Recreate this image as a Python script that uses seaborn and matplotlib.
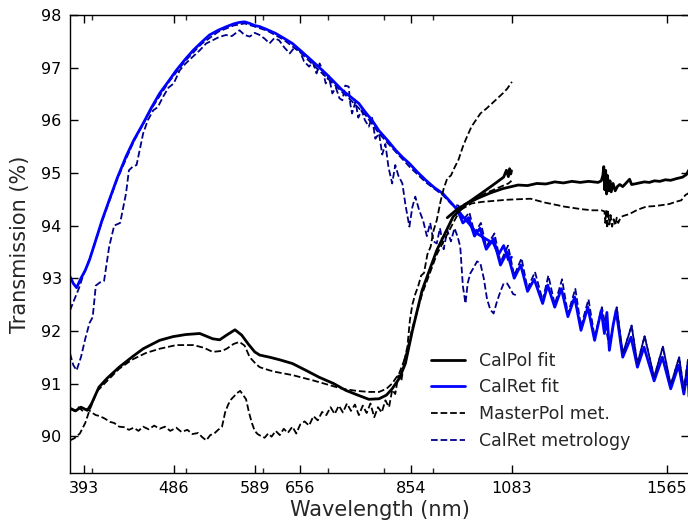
import matplotlib
matplotlib.use("Agg")
import matplotlib.pyplot as plt
import seaborn as sns
from matplotlib.ticker import FixedLocator, NullFormatter
from matplotlib.lines import Line2D

# ---------------- data ----------------
# CalPol fit (visible range) - black solid
calpol_wl = [380, 385, 390, 396, 400, 407, 415, 427, 440, 452, 470, 485, 500, 517, 533, 542, 551, 562, 571,
             580, 589, 596, 610, 625, 644, 665, 686, 710, 731, 752, 772, 791, 805, 816, 830, 842, 856, 876,
             907, 943, 974, 1006, 1031, 1047, 1063, 1070, 1075, 1078, 1081, 1083]
calpol_val = [90.53, 90.48, 90.55, 90.49, 90.62, 90.93, 91.10, 91.31, 91.50, 91.66, 91.82, 91.89, 91.93, 91.95,
              91.85, 91.83, 91.92, 92.02, 91.92, 91.75, 91.60, 91.54, 91.50, 91.45, 91.38, 91.25, 91.12, 91.00,
              90.87, 90.78, 90.70, 90.71, 90.78, 90.90, 91.10, 91.38, 92.00, 92.77, 93.53, 94.17, 94.42, 94.60,
              94.74, 94.83, 94.92, 95.05, 94.93, 95.08, 94.98, 95.04]

# CalPol fit (IR range) - black solid
calpol_ir_wl = [930, 955, 975, 1000, 1030, 1060, 1100, 1125, 1150, 1175, 1200, 1225, 1250, 1275, 1300, 1330,
                1340, 1345, 1348, 1351, 1354, 1357, 1360, 1364, 1368, 1372, 1378, 1385, 1392, 1400, 1410,
                1420, 1433, 1440, 1450, 1467, 1484, 1502, 1520, 1540, 1560, 1580, 1600, 1625, 1640, 1650]
calpol_ir_val = [94.15, 94.33, 94.42, 94.52, 94.62, 94.70, 94.77, 94.76, 94.80, 94.79, 94.83, 94.81, 94.84,
                 94.82, 94.84, 94.82, 94.85, 94.95, 95.12, 94.68, 95.05, 94.60, 94.95, 94.66, 94.85, 94.64,
                 94.80, 94.66, 94.74, 94.78, 94.74, 94.80, 94.88, 94.78, 94.79, 94.81, 94.83, 94.82, 94.85,
                 94.84, 94.87, 94.86, 94.89, 94.92, 94.97, 95.06]

# MasterPol metrology (smooth, near CalPol fit) - black dashed
mpol_a_wl = [380, 384, 389, 394, 398, 405, 415, 427, 440, 455, 470, 489, 509, 522, 533, 545, 551, 560, 568,
             575, 582, 590, 596, 610, 619, 644, 676, 700, 725, 750, 772, 791, 805, 816, 830, 842, 856, 876,
             907, 943, 965, 990, 1020, 1050, 1075, 1083]
mpol_a_val = [89.92, 89.96, 90.05, 90.25, 90.49, 90.85, 91.05, 91.28, 91.45, 91.58, 91.66, 91.73, 91.73, 91.68,
              91.60, 91.62, 91.66, 91.75, 91.79, 91.72, 91.50, 91.38, 91.31, 91.25, 91.22, 91.16, 91.06, 90.98,
              90.90, 90.86, 90.84, 90.84, 90.90, 91.00, 91.20, 91.50, 92.05, 92.70, 93.45, 94.05, 94.39, 94.50,
              94.62, 94.72, 94.80, 94.85]

# MasterPol metrology (noisy) - black dashed
mpol_b_wl = [380, 384, 388, 392, 396, 400, 404, 408, 413, 418, 422, 427, 432, 437, 442, 447, 452, 458, 464,
             470, 476, 482, 489, 495, 502, 508, 515, 520, 525, 530, 535, 540, 545, 549, 553, 557, 561, 565,
             569, 573, 577, 581, 585, 589, 593, 598, 603, 608, 613, 619, 625, 631, 637, 644, 650, 656, 663,
             670, 677, 684, 691, 698, 705, 712, 719, 726, 733, 740, 747, 754, 761, 768, 775, 782, 789, 796,
             803, 810, 816, 822, 828, 834, 840, 846, 851, 856, 862, 868, 874, 880, 887, 894, 900, 907, 915,
             922, 930, 938, 946, 955, 965, 975, 985, 995, 1006, 1020, 1034, 1048, 1062, 1072, 1084]
mpol_b_val = [90.52, 90.48, 90.55, 90.47, 90.52, 90.45, 90.40, 90.38, 90.33, 90.27, 90.25, 90.18, 90.17,
              90.12, 90.16, 90.10, 90.18, 90.13, 90.20, 90.14, 90.18, 90.10, 90.16, 90.08, 90.12, 90.04,
              90.06, 89.98, 89.92, 90.02, 90.05, 90.12, 90.18, 90.45, 90.60, 90.70, 90.76, 90.82, 90.86,
              90.78, 90.70, 90.45, 90.25, 90.10, 90.04, 90.00, 89.97, 90.05, 89.99, 90.10, 90.02, 90.14,
              90.06, 90.18, 90.05, 90.22, 90.28, 90.20, 90.38, 90.30, 90.46, 90.40, 90.55, 90.42, 90.58,
              90.45, 90.62, 90.48, 90.60, 90.40, 90.58, 90.44, 90.62, 90.36, 90.55, 90.45, 90.68, 90.55,
              90.88, 90.80, 91.15, 91.05, 91.45, 91.70, 92.20, 92.50, 92.70, 92.85, 93.05, 93.10, 93.45,
              93.60, 93.90, 94.10, 94.45, 94.70, 94.90, 94.95, 95.10, 95.25, 95.50, 95.70, 95.88, 96.00,
              96.13, 96.22, 96.32, 96.42, 96.52, 96.60, 96.73]

# MasterPol metrology (IR) - black dashed
mpol_ir_wl = [960, 985, 1010, 1040, 1070, 1100, 1133, 1170, 1228, 1280, 1313, 1340, 1350, 1353, 1356, 1359,
              1362, 1366, 1370, 1375, 1380, 1385, 1390, 1395, 1402, 1410, 1433, 1460, 1491, 1520, 1549, 1575,
              1598, 1620, 1636, 1650]
mpol_ir_val = [94.30, 94.42, 94.45, 94.47, 94.49, 94.50, 94.51, 94.44, 94.36, 94.31, 94.29, 94.29, 94.27,
               94.05, 94.30, 93.95, 94.28, 94.02, 94.20, 93.98, 94.12, 94.00, 94.15, 94.05, 94.14, 94.18,
               94.22, 94.30, 94.36, 94.37, 94.39, 94.41, 94.45, 94.48, 94.58, 94.62]

# CalRet fit (visible) - blue solid
calret_wl = [380, 383, 386, 390, 394, 398, 402, 406, 410, 417, 425, 434, 442, 452, 461, 470, 480, 489, 499,
             509, 519, 529, 540, 551, 560, 568, 575, 582, 589, 596, 607, 619, 631, 644, 657, 670, 683, 697,
             711, 725, 740, 754, 766, 778, 791, 807, 823, 836, 850, 866, 884, 902, 920, 940, 959, 978, 998,
             1018, 1038, 1050, 1063, 1075, 1083]
calret_val = [93.03, 92.90, 92.82, 93.00, 93.15, 93.35, 93.60, 93.85, 94.10, 94.48, 94.90, 95.31, 95.62,
              95.94, 96.24, 96.51, 96.74, 96.95, 97.15, 97.33, 97.48, 97.62, 97.71, 97.78, 97.83, 97.86,
              97.87, 97.84, 97.80, 97.78, 97.72, 97.65, 97.56, 97.46, 97.32, 97.18, 97.04, 96.89, 96.73,
              96.57, 96.44, 96.32, 96.15, 96.00, 95.80, 95.62, 95.43, 95.30, 95.18, 95.02, 94.86, 94.72,
              94.61, 94.42, 94.23, 94.05, 93.85, 93.75, 93.66, 93.45, 93.62, 93.35, 93.40]

# CalRet fit (IR) - blue solid
calret_ir_wl = [950, 965, 978, 992, 1005, 1020, 1038, 1055, 1072, 1090, 1107, 1125, 1143, 1166, 1180, 1200,
                1219, 1238, 1258, 1277, 1298, 1319, 1340, 1350, 1358, 1366, 1378, 1388, 1410, 1438, 1460,
                1483, 1519, 1549, 1580, 1610, 1630, 1645, 1650]
calret_ir_val = [94.35, 94.05, 94.15, 93.80, 93.95, 93.55, 93.75, 93.25, 93.50, 93.00, 93.25, 92.75, 92.98,
                 92.52, 92.87, 92.45, 92.80, 92.27, 92.64, 92.01, 92.45, 91.82, 92.39, 91.95, 92.35, 91.63,
                 92.10, 92.39, 91.50, 91.88, 91.31, 91.69, 91.05, 91.50, 90.90, 91.35, 90.80, 91.30, 90.75]

# CalRet metrology (smooth) - navy dashed
cmet_a_wl = [380, 384, 388, 392, 396, 400, 410, 425, 442, 461, 480, 499, 519, 540, 560, 575, 589, 607, 631,
             657, 683, 711, 740, 766, 791, 823, 850, 884, 920, 940, 955, 965, 980, 992, 1007, 1020, 1040,
             1055, 1074, 1090, 1109, 1125, 1145, 1166, 1182, 1200, 1221, 1238, 1260, 1277, 1300, 1319, 1342,
             1366, 1390, 1410, 1440, 1460, 1485, 1519, 1551, 1580, 1612, 1630, 1646, 1650]
cmet_a_val = [92.39, 92.60, 92.80, 93.05, 93.25, 93.48, 94.08, 94.88, 95.60, 96.22, 96.72, 97.12, 97.45,
              97.68, 97.80, 97.84, 97.78, 97.70, 97.53, 97.28, 96.98, 96.68, 96.38, 96.10, 95.75, 95.40,
              95.12, 94.82, 94.58, 94.40, 94.38, 94.10, 94.25, 93.85, 94.05, 93.60, 93.85, 93.30, 93.62,
              93.05, 93.38, 92.80, 93.12, 92.58, 93.05, 92.50, 92.98, 92.32, 92.80, 92.08, 92.60, 91.88,
              92.45, 91.70, 92.45, 91.56, 92.10, 91.37, 91.90, 91.12, 91.70, 90.97, 91.50, 90.87, 91.45,
              91.00]

# CalRet metrology (noisy) - navy dashed
cmet_b_wl = [380, 383, 386, 390, 394, 398, 401, 404, 408, 412, 417, 422, 428, 434, 437, 441, 445, 452, 457,
             463, 468, 474, 480, 486, 493, 500, 508, 517, 525, 533, 541, 550, 558, 568, 575, 582, 589, 596,
             603, 610, 617, 624, 632, 640, 647, 655, 662, 670, 676, 682, 687, 692, 697, 702, 708, 714, 720,
             725, 730, 736, 739, 742, 748, 753, 759, 765, 772, 778, 784, 791, 797, 803, 809, 816, 822, 828,
             836, 842, 850, 856, 862, 870, 878, 886, 893, 900, 907, 914, 922, 930, 938, 946, 953, 959, 965,
             971, 976, 982, 990, 998, 1006, 1014, 1022, 1030, 1038, 1046, 1055, 1063, 1072, 1080, 1087, 1094]
cmet_b_val = [91.57, 91.35, 91.25, 91.50, 91.85, 92.15, 92.26, 92.86, 92.92, 92.95, 93.60, 94.00, 94.05,
              94.61, 95.05, 95.12, 95.15, 95.75, 96.00, 96.19, 96.25, 96.45, 96.62, 96.70, 96.95, 97.08,
              97.20, 97.33, 97.46, 97.52, 97.58, 97.62, 97.60, 97.71, 97.62, 97.59, 97.66, 97.62, 97.55,
              97.46, 97.56, 97.52, 97.38, 97.27, 97.38, 97.33, 97.12, 97.02, 97.10, 96.89, 97.08, 96.95,
              96.70, 96.85, 96.51, 96.62, 96.42, 96.38, 96.66, 96.64, 96.30, 96.13, 96.35, 96.05, 96.19,
              96.00, 95.88, 96.05, 95.65, 95.75, 95.35, 95.55, 95.10, 94.80, 95.15, 94.95, 94.80, 94.40,
              93.98, 94.35, 94.55, 94.29, 94.10, 93.80, 94.05, 93.70, 93.66, 93.95, 93.55, 93.91, 93.70,
              93.95, 93.79, 93.60, 92.85, 92.52, 92.90, 93.09, 93.20, 93.32, 93.28, 93.00, 92.60, 92.40,
              92.33, 92.55, 92.75, 92.90, 92.90, 92.80, 92.70, 92.68]

xtick_vals = [393, 486, 589, 656, 854, 1083, 1565]
xtick_labels = ["393", "486", "589", "656", "854", "1083", "1565"]
xminor_vals = [400, 500, 600, 700, 800, 900]
ytick_vals = [90, 91, 92, 93, 94, 95, 96, 97, 98]

legend_labels = ["CalPol fit", "CalRet fit", "MasterPol met.", "CalRet metrology"]

# ---------------- style ----------------
sns.set_theme(style="ticks", rc={
    "xtick.direction": "in", "ytick.direction": "in",
    "xtick.top": True, "ytick.right": True,
    "axes.edgecolor": "black", "axes.linewidth": 1.0,
})
plt.rcParams["font.family"] = ["DejaVu Sans"]

BLACK = "black"
BLUE = "#0000ff"
NAVY = "#00008b"
LW_SOLID = 2.0
LW_DASH = 1.3

fig = plt.figure(figsize=(6.88, 5.27), dpi=100)
ax = fig.add_axes([70 / 688, 54 / 527, 619 / 688, 458 / 527])


def draw(wl, val, color, ls, lw):
    sns.lineplot(x=wl, y=val, ax=ax, color=color, linestyle=ls, linewidth=lw,
                 estimator=None, sort=False, legend=False)


draw(cmet_b_wl, cmet_b_val, NAVY, "--", LW_DASH)
draw(cmet_a_wl, cmet_a_val, NAVY, "--", LW_DASH)
draw(calret_wl, calret_val, BLUE, "-", LW_SOLID)
draw(calret_ir_wl, calret_ir_val, BLUE, "-", LW_SOLID)
draw(cmet_a_wl[54:], cmet_a_val[54:], NAVY, "--", LW_DASH)
draw(mpol_a_wl, mpol_a_val, BLACK, "--", LW_DASH)
draw(mpol_b_wl, mpol_b_val, BLACK, "--", LW_DASH)
draw(mpol_ir_wl, mpol_ir_val, BLACK, "--", LW_DASH)
draw(calpol_wl, calpol_val, BLACK, "-", LW_SOLID)
draw(calpol_ir_wl, calpol_ir_val, BLACK, "-", LW_SOLID)

ax.set_xscale("log")
ax.set_xlim(380, 1650)
ax.set_ylim(89.3, 98)
ax.xaxis.set_major_locator(FixedLocator(xtick_vals))
ax.set_xticklabels(xtick_labels)
ax.xaxis.set_minor_locator(FixedLocator(xminor_vals))
ax.xaxis.set_minor_formatter(NullFormatter())
ax.set_yticks(ytick_vals)
ax.set_yticklabels([str(v) for v in ytick_vals])

ax.tick_params(which="major", direction="in", length=6, width=1, labelsize=11.5, pad=6,
               top=True, right=True, colors="black")
ax.tick_params(which="minor", direction="in", length=3.5, width=1, top=True, right=True)
ax.tick_params(axis="y", which="minor", left=False, right=False)

ax.set_xlabel("Wavelength (nm)", fontsize=15, labelpad=3)
ax.set_ylabel("Transmission (%)", fontsize=15, labelpad=8)

handles = [
    Line2D([], [], color=BLACK, ls="-", lw=LW_SOLID),
    Line2D([], [], color=BLUE, ls="-", lw=LW_SOLID),
    Line2D([], [], color=BLACK, ls="--", lw=LW_DASH),
    Line2D([], [], color=NAVY, ls="--", lw=LW_DASH),
]
ax.legend(handles, legend_labels, loc="upper left", bbox_to_anchor=(415 / 688, 1 - 336 / 527),
          bbox_transform=fig.transFigure, frameon=False, fontsize=12.5, handlelength=2.0,
          labelspacing=0.5, handletextpad=0.8, borderpad=0.4)

fig.savefig("out.png", dpi=100, facecolor="white")
